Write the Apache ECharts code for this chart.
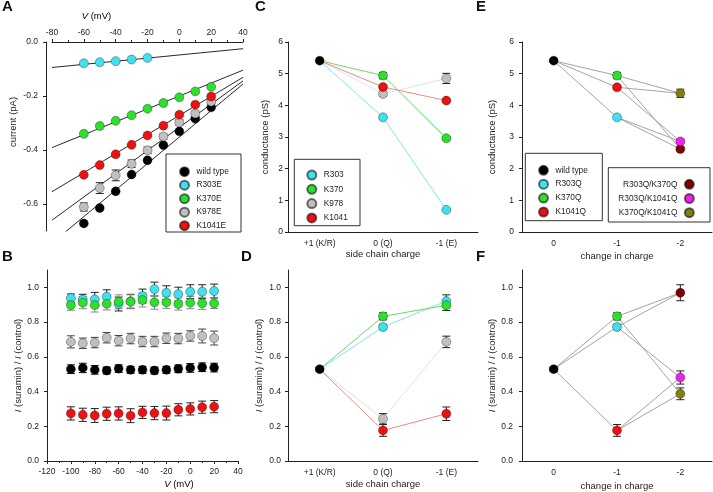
<!DOCTYPE html>
<html><head><meta charset="utf-8">
<script src="https://cdn.jsdelivr.net/npm/echarts@6/dist/echarts.min.js"></script>
<style>html,body{margin:0;padding:0;background:#fff}#c{width:713px;height:492px}</style>
</head><body><div id="c"></div>
<script>
// ---------------- DATA ----------------
// Panel A: single-channel current vs voltage
const vA = [-60,-50,-40,-30,-20,-10,0,10,20];
const vA_R303E = [-60,-50,-40,-30,-20];
const iA_wt    = [-0.672,-0.615,-0.553,-0.491,-0.438,-0.382,-0.331,-0.284,-0.242];
const iA_R303E = [-0.079,-0.075,-0.071,-0.065,-0.059];
const iA_K370E = [-0.340,-0.311,-0.292,-0.271,-0.247,-0.226,-0.205,-0.183,-0.166];
const iA_K978E = [-0.611,-0.541,-0.494,-0.451,-0.401,-0.350,-0.298,-0.265,-0.221];
const eA_K978E = [0.015,0.020,0.020,0.014,0.012,0.010,0.010,0.010,0.008];
const iA_K1041E= [-0.492,-0.456,-0.416,-0.381,-0.346,-0.310,-0.269,-0.232,-0.202];
// linear fits (current at 0 mV and slope per mV): wt, R303E, K370E, K978E, K1041E
const fitNames = ['wild type','R303E','K370E','K978E','K1041E'];
const fitI0    = [-0.352,-0.048,-0.200,-0.316,-0.272];
const fitSlope = [0.00491,0.00058,0.00239,0.00430,0.00353];
const fitRange = [-80, 40];
const tickA_y = [0,-0.2,-0.4,-0.6];

// Panel B: I(suramin)/I(control) vs voltage
const vB = [-100,-90,-80,-70,-60,-50,-40,-30,-20,-10,0,10,20];
const rB_wt    = [0.529,0.536,0.525,0.521,0.532,0.525,0.525,0.521,0.525,0.531,0.536,0.540,0.538];
const eB_wt    = [0.025,0.027,0.025,0.020,0.022,0.020,0.020,0.020,0.020,0.022,0.025,0.025,0.025];
const rB_K978E = [0.686,0.678,0.682,0.710,0.693,0.705,0.688,0.688,0.707,0.705,0.720,0.720,0.708];
const eB_K978E = [0.035,0.030,0.030,0.030,0.030,0.030,0.030,0.030,0.030,0.030,0.030,0.040,0.040];
const rB_K1041E= [0.274,0.266,0.262,0.272,0.274,0.261,0.280,0.276,0.276,0.295,0.300,0.310,0.313];
const eB_K1041E= [0.038,0.038,0.040,0.038,0.038,0.040,0.035,0.038,0.040,0.035,0.035,0.035,0.035];
const rB_R303E = [0.937,0.930,0.931,0.946,0.904,0.920,0.950,0.990,0.969,0.961,0.975,0.975,0.979];
const eB_R303E = [0.025,0.030,0.040,0.040,0.040,0.040,0.040,0.040,0.040,0.040,0.040,0.040,0.040];
const rB_K370E = [0.898,0.912,0.898,0.905,0.917,0.917,0.927,0.914,0.914,0.904,0.912,0.908,0.908];
const eB_K370E = [0.030,0.035,0.040,0.035,0.040,0.040,0.040,0.040,0.035,0.035,0.035,0.035,0.030];
const tickB_y = [0,0.2,0.4,0.6,0.8,1.0];

// Panels C/D: side chain charge
const catsCD = ['+1 (K/R)','0 (Q)','-1 (E)'];
const resCD  = ['R303','K370','K978','K1041'];
const gC_wt = 5.41, sD_wt = 0.529, sD_wtErr = 0.012;
const gC_Q  = [3.62,4.94,4.36,4.58];
const gC_Qe = [0.05,0.10,0.07,0.07];
const gC_E  = [0.70,2.96,4.85,4.15];
const gC_Ee = [0.04,0.05,0.16,0.05];
const sD_Q  = [0.772,0.833,0.243,0.176];
const sD_Qe = [0.015,0.020,0.030,0.034];
const sD_E  = [0.921,0.897,0.686,0.272];
const sD_Ee = [0.036,0.030,0.033,0.039];

// Panels E/F: change in charge (single & double Q mutants)
const catsEF = ['0','-1','-2'];
const mutEF  = ['wild type','R303Q','K370Q','K1041Q','R303Q/K370Q','R303Q/K1041Q','K370Q/K1041Q'];
const chgEF  = ['0','-1','-1','-1','-2','-2','-2'];
const gE     = [5.41,3.62,4.94,4.57,2.62,2.86,4.38];
const gEe    = [0.03,0.05,0.10,0.06,0.05,0.05,0.13];
const sF     = [0.529,0.772,0.833,0.176,0.969,0.481,0.387];
const sFe    = [0.012,0.015,0.020,0.034,0.046,0.038,0.034];
const linksEF = [['wild type','R303Q'],['wild type','K370Q'],['wild type','K1041Q'],
  ['R303Q','R303Q/K370Q'],['K370Q','R303Q/K370Q'],['R303Q','R303Q/K1041Q'],['K1041Q','R303Q/K1041Q'],
  ['K370Q','K370Q/K1041Q'],['K1041Q','K370Q/K1041Q']];

// ---------------- STYLE ----------------
const FF = "'Liberation Sans', Arial, Helvetica, sans-serif";
const colA = {'wild type':'#000000','R303E':'#40e0f0','K370E':'#2ee02e','K978E':'#c0c0c0','K1041E':'#ee1111'};
const colCD = ['#40e0f0','#2ee02e','#c0c0c0','#ee1111'];
const lineCD = ['#7fe6f0','#66dc66','#e2e2e2','#f08a8a'];
const colEF = ['#000000','#40e0f0','#2ee02e','#ee1111','#800000','#ee22ee','#808010'];
const AX = '#222';

const grids = [
  {left:52, top:42, width:191, height:189},   // A
  {left:47, top:270, width:191, height:191},  // B
  {left:288, top:42, width:190, height:190},  // C
  {left:288, top:270, width:190, height:191}, // D
  {left:522, top:42, width:190, height:190},  // E
  {left:522, top:270, width:190, height:191}  // F
];

function baseAxis(extra) {
  return Object.assign({
    axisLine:{show:true, onZero:false, lineStyle:{color:AX, width:1}},
    axisTick:{show:true, length:3, lineStyle:{color:AX, width:1}},
    axisLabel:{fontSize:8.5, color:AX, fontFamily:FF, margin:5},
    splitLine:{show:false},
    nameTextStyle:{fontSize:9.5, color:AX, fontFamily:FF}
  }, extra);
}
const lab = (m, extra) => Object.assign({fontSize:8.5, color:AX, fontFamily:FF, margin:m}, extra || {});
const fmt1 = v => v.toFixed(1);
const richI = {it:{fontStyle:'italic', fontSize:9.5, fontFamily:FF, color:AX}, n:{fontSize:9.5, fontFamily:FF, color:AX}};

const xAxes = [
  baseAxis({gridIndex:0, type:'value', position:'top', min:-80, max:40, interval:20, axisLabel:lab(5),
    minorTick:{show:true, splitNumber:2, length:2, lineStyle:{color:AX}}}),
  baseAxis({gridIndex:1, type:'value', min:-120, max:40, interval:20, axisLabel:lab(6),
    minorTick:{show:true, splitNumber:2, length:2, lineStyle:{color:AX}}}),
  baseAxis({gridIndex:2, type:'category', data:catsCD, axisTick:{show:false}, axisLabel:lab(7),
    name:'side chain charge', nameLocation:'middle', nameGap:16}),
  baseAxis({gridIndex:3, type:'category', data:catsCD, axisTick:{show:false}, axisLabel:lab(7),
    name:'side chain charge', nameLocation:'middle', nameGap:18}),
  baseAxis({gridIndex:4, type:'category', data:catsEF, axisTick:{show:false}, axisLabel:lab(7),
    name:'change in charge', nameLocation:'middle', nameGap:19}),
  baseAxis({gridIndex:5, type:'category', data:catsEF, axisTick:{show:false}, axisLabel:lab(7),
    name:'change in charge', nameLocation:'middle', nameGap:20})
];
const suraminName = '{it|I}{n| (suramin) / }{it|I}{n| (control)}';
const yAxes = [
  baseAxis({gridIndex:0, type:'value', min:-0.7, max:0, offset:6,
    axisLabel:lab(8, {customValues:tickA_y, formatter:fmt1}),
    axisTick:{show:true, length:3, lineStyle:{color:AX}, customValues:tickA_y}}),
  baseAxis({gridIndex:1, type:'value', min:0, max:1.1,
    axisLabel:lab(8, {customValues:tickB_y, formatter:fmt1}),
    axisTick:{show:true, length:3, lineStyle:{color:AX}, customValues:tickB_y},
    name:suraminName, nameLocation:'middle', nameGap:22, nameTextStyle:{rich:richI}}),
  baseAxis({gridIndex:2, type:'value', min:0, max:6, interval:1, axisLabel:lab(5),
    name:'conductance (pS)', nameLocation:'middle', nameGap:18}),
  baseAxis({gridIndex:3, type:'value', min:0, max:1.1,
    axisLabel:lab(7, {customValues:tickB_y, formatter:fmt1}),
    axisTick:{show:true, length:3, lineStyle:{color:AX}, customValues:tickB_y},
    name:suraminName, nameLocation:'middle', nameGap:24, nameTextStyle:{rich:richI}}),
  baseAxis({gridIndex:4, type:'value', min:0, max:6, interval:1, axisLabel:lab(8),
    name:'conductance (pS)', nameLocation:'middle', nameGap:25}),
  baseAxis({gridIndex:5, type:'value', min:0, max:1.1,
    axisLabel:lab(9, {customValues:tickB_y, formatter:fmt1}),
    axisTick:{show:true, length:3, lineStyle:{color:AX}, customValues:tickB_y},
    name:suraminName, nameLocation:'middle', nameGap:24, nameTextStyle:{rich:richI}})
];

// ---------------- SERIES HELPERS ----------------
function errRender(params, api) {
  const x = api.value(0), y = api.value(1), e = api.value(2);
  const t = api.coord([x, y + e]), b = api.coord([x, y - e]);
  const w = 4, st = {stroke: api.visual('color'), lineWidth: 1};
  return {type:'group', children:[
    {type:'line', shape:{x1:t[0], y1:t[1], x2:b[0], y2:b[1]}, style:st},
    {type:'line', shape:{x1:t[0]-w, y1:t[1], x2:t[0]+w, y2:t[1]}, style:st},
    {type:'line', shape:{x1:b[0]-w, y1:b[1], x2:b[0]+w, y2:b[1]}, style:st}
  ]};
}
function errS(gi, pts, color) {
  return {type:'custom', xAxisIndex:gi, yAxisIndex:gi, data:pts, renderItem:errRender,
    itemStyle:{color:color || '#222'}, silent:true, z:3};
}
function pts(gi, name, data, color) {
  return {type:'scatter', name:name, xAxisIndex:gi, yAxisIndex:gi, data:data, symbolSize:9,
    itemStyle:{color:color, borderColor:'rgba(0,0,0,0.55)', borderWidth:0.6, opacity:1}, z:4, silent:true};
}
function ln(gi, data, color, w) {
  return {type:'line', xAxisIndex:gi, yAxisIndex:gi, data:data, symbol:'none', silent:true,
    lineStyle:{color:color, width:w || 1}, z:2, clip:true, animation:false};
}
const zip = (xs, ys) => xs.map((x, i) => [x, ys[i]]);
const zip3 = (xs, ys, es) => xs.map((x, i) => [x, ys[i], es[i]]);

const series = [];
// A: fit lines
fitNames.forEach((n, i) => {
  series.push(ln(0, fitRange.map(v => [v, fitI0[i] + fitSlope[i] * v]), '#111', 0.9));
});
series.push(errS(0, zip3(vA, iA_K978E, eA_K978E)));
series.push(pts(0, 'wild type', zip(vA, iA_wt), colA['wild type']));
series.push(pts(0, 'R303E', zip(vA_R303E, iA_R303E), colA['R303E']));
series.push(pts(0, 'K370E', zip(vA, iA_K370E), colA['K370E']));
series.push(pts(0, 'K978E', zip(vA, iA_K978E), colA['K978E']));
series.push(pts(0, 'K1041E', zip(vA, iA_K1041E), colA['K1041E']));

// B
[[rB_wt, eB_wt, 'wild type', '#111'], [rB_K978E, eB_K978E, 'K978E', '#444'], [rB_K1041E, eB_K1041E, 'K1041E', '#222'],
 [rB_R303E, eB_R303E, 'R303E', '#222'], [rB_K370E, eB_K370E, 'K370E', '#888']].forEach(([r, e, n, ec]) => {
  series.push(errS(1, zip3(vB, r, e), ec));
  series.push(pts(1, n, zip(vB, r), colA[n]));
});

// C & D
resCD.forEach((n, i) => {
  series.push(ln(2, [[catsCD[0], gC_wt], [catsCD[1], gC_Q[i]], [catsCD[2], gC_E[i]]], lineCD[i], 1));
  series.push(ln(3, [[catsCD[0], sD_wt], [catsCD[1], sD_Q[i]], [catsCD[2], sD_E[i]]], lineCD[i], 1));
});
resCD.forEach((n, i) => {
  series.push(errS(2, [[catsCD[1], gC_Q[i], gC_Qe[i]], [catsCD[2], gC_E[i], gC_Ee[i]]]));
  series.push(pts(2, n, [[catsCD[1], gC_Q[i]], [catsCD[2], gC_E[i]]], colCD[i]));
  series.push(errS(3, [[catsCD[1], sD_Q[i], sD_Qe[i]], [catsCD[2], sD_E[i], sD_Ee[i]]]));
  series.push(pts(3, n, [[catsCD[1], sD_Q[i]], [catsCD[2], sD_E[i]]], colCD[i]));
});
series.push(pts(2, 'wt (C)', [[catsCD[0], gC_wt]], '#000'));
series.push(errS(3, [[catsCD[0], sD_wt, sD_wtErr]]));
series.push(pts(3, 'wt (D)', [[catsCD[0], sD_wt]], '#000'));

// E & F
const idx = n => mutEF.indexOf(n);
linksEF.forEach(([a, b]) => {
  series.push(ln(4, [[chgEF[idx(a)], gE[idx(a)]], [chgEF[idx(b)], gE[idx(b)]]], '#9a9a9a', 0.9));
  series.push(ln(5, [[chgEF[idx(a)], sF[idx(a)]], [chgEF[idx(b)], sF[idx(b)]]], '#9a9a9a', 0.9));
});
mutEF.forEach((n, i) => {
  series.push(errS(4, [[chgEF[i], gE[i], gEe[i]]]));
  series.push(pts(4, n, [[chgEF[i], gE[i]]], colEF[i]));
  series.push(errS(5, [[chgEF[i], sF[i], sFe[i]]]));
  series.push(pts(5, n, [[chgEF[i], sF[i]]], colEF[i]));
});

// ---------------- LEGENDS ----------------
function legend(left, top, names, gap, align) {
  return {orient:'vertical', left:left, top:top, padding:0, itemWidth:14, itemHeight:9, itemGap:gap,
    icon:'circle', selectedMode:false, align:align || 'left', data:names,
    textStyle:{fontSize:8.3, lineHeight:9, color:'#222', fontFamily:FF}};
}
const legends = [
  legend(179, 166.2, ['wild type','R303E','K370E','K978E','K1041E'], 2.5),
  legend(306.3, 169.5, resCD, 3.3),
  legend(538, 164.8, ['wild type','R303Q','K370Q','K1041Q'], 2.9),
  legend(618.3, 178.8, ['R303Q/K370Q','R303Q/K1041Q','K370Q/K1041Q'], 3.2, 'right')
];

// ---------------- GRAPHIC (boxes, letters, off-centre axis titles) ----------------
const box = (x, y, w, h) => ({type:'rect', shape:{x:x, y:y, width:w, height:h}, style:{fill:null, stroke:'#333', lineWidth:1}, silent:true, z:10});
const letter = (t, x, y) => ({type:'text', x:x, y:y, style:{text:t, fontSize:15, fontWeight:'bold', fontFamily:FF, fill:'#111', textVerticalAlign:'top'}, silent:true});
const graphic = [
  box(166, 154, 75, 78), box(294.3, 159.3, 65.7, 66.4), box(525.3, 153.3, 77, 67.4), box(608.3, 167.7, 101.7, 54.3),
  letter('A', 2, -1), letter('C', 255, -1), letter('E', 476, -1),
  letter('B', 2, 249), letter('D', 241, 249), letter('F', 476, 249),
  {type:'text', x:96.5, y:16.7, style:{text:'{it|V}{n| (mV)}', rich:richI, textAlign:'center', textVerticalAlign:'middle'}, silent:true},
  {type:'text', x:179, y:484, style:{text:'{it|V}{n| (mV)}', rich:richI, textAlign:'center', textVerticalAlign:'middle'}, silent:true},
  {type:'text', x:13, y:122, rotation:Math.PI/2, style:{text:'current (pA)', fontSize:9.5, fontFamily:FF, fill:AX, textAlign:'center', textVerticalAlign:'middle'}, silent:true}
];

const chart = echarts.init(document.getElementById('c'), null, {renderer:'canvas'});
chart.setOption({
  animation:false,
  backgroundColor:'#fff',
  grid:grids, xAxis:xAxes, yAxis:yAxes, series:series, legend:legends, graphic:graphic
});
</script></body></html>
